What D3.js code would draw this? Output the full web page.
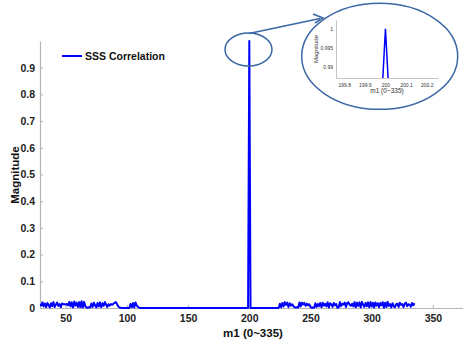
<!DOCTYPE html>
<html><head><meta charset="utf-8">
<script src="https://cdn.jsdelivr.net/npm/d3@7"></script>
<style>body{margin:0;background:#fff}svg{display:block;font-family:"Liberation Sans",Arial,sans-serif}</style>
</head><body>
<script>
// ---- data ----
const leftStart = 29; // m1 index of first left-noise value
const leftNoise = [14,9,21,6,17,3,19,12,2,18,7,22,4,13,20,8,15,3,17,14,
 14,13,15,10,23,6,21,2,24,9,20,4,22,3,25,2,23,7,1,2,
 3,2,17,4,20,10,2,19,6,21,3,18,8,22,13,4,14,9,15,12,
 16,19,22,14,6,2,1,0,0,0,0,0,0,0,15,3,19,2,21,10,4,1,0,0].map(v=>v/1000);
const peakM = [199,200,201];
const peakMag = [0,1,0];
const rightStart = 225;
const rightNoise = [16,3,19,6,22,12,20,4,18,9,14,7,3,2,3,2,21,6,20,13,
 19,8,16,10,14,3,1,2,1,18,4,15,7,19,3,20,9,16,6,21,
 2,18,14,4,19,10,15,1,2,22,7,16,13,20,4,19,21,12,9,16,
 6,22,3,20,8,21,2,23,13,4,19,7,21,3,22,6,20,2,21,9,
 18,3,19,10,22,1,20,4,23,8,15,2,18,7,3,14,16,4,20,12,
 15,3,16,20,7,14,12,5,19,10,18].map(v=>v/1000);
const xTicks = [50,100,150,200,250,300,350];
const yTicks = [0,0.1,0.2,0.3,0.4,0.5,0.6,0.7,0.8,0.9];
const insetXTicks = [199.8,199.9,200,200.1,200.2];
const insetYTicks = [0.99,0.995,1];
const seriesName = "SSS Correlation";

// build series
const series = [];
leftNoise.forEach((v,i)=>series.push([leftStart+i,v]));
const leftEnd = leftStart+leftNoise.length;
for(let m=leftEnd;m<peakM[0];m++) series.push([m,0]);
peakM.forEach((m,i)=>series.push([m,peakMag[i]]));
for(let m=peakM[2]+1;m<rightStart;m++) series.push([m,0]);
rightNoise.forEach((v,i)=>series.push([rightStart+i,v]));

const W=463,H=343;
const svg=d3.select("body").append("svg").attr("width",W).attr("height",H);

// ---- main chart ----
const x=d3.scaleLinear().domain([29,374.6]).range([40,463]);
const y=d3.scaleLinear().domain([0,1]).range([308,41]);

const axisColor="#b5b5b5";
const gx=svg.append("g").attr("transform","translate(0,308)")
 .call(d3.axisBottom(x).tickValues(xTicks).tickSizeInner(-3).tickSizeOuter(0).tickPadding(7));
const gy=svg.append("g").attr("transform","translate(40,0)")
 .call(d3.axisLeft(y).tickValues(yTicks).tickSizeInner(-3).tickSizeOuter(0).tickPadding(5)
 .tickFormat(d=>d===0?"0":d3.format(".1f")(d)));
[gx,gy].forEach(g=>{
 g.select(".domain").attr("stroke",axisColor).attr("stroke-width",1.2);
 g.selectAll(".tick line").attr("stroke",axisColor);
 g.selectAll(".tick text").attr("fill","#222").attr("font-size",10.5).attr("font-weight","bold")
  .attr("font-family","'Liberation Sans',Arial,sans-serif");
});

svg.append("defs").append("clipPath").attr("id","mainclip")
 .append("rect").attr("x",40).attr("y",30).attr("width",423).attr("height",280);

const line=d3.line().x(d=>x(d[0])).y(d=>y(d[1]));
svg.append("path").datum(series).attr("d",line).attr("fill","none")
 .attr("stroke","#0000ff").attr("stroke-width",2).attr("stroke-linejoin","round")
 .attr("clip-path","url(#mainclip)");

// axis titles
svg.append("text").attr("x",253).attr("y",337).attr("text-anchor","middle")
 .attr("font-size",11.5).attr("font-weight","bold").attr("fill","#111").text("m1 (0~335)");
svg.append("text").attr("transform","translate(19,175) rotate(-90)").attr("text-anchor","middle")
 .attr("font-size",11.5).attr("font-weight","bold").attr("fill","#111").text("Magnitude");

// legend
svg.append("line").attr("x1",62).attr("x2",82).attr("y1",56).attr("y2",56)
 .attr("stroke","#0000ff").attr("stroke-width",2);
svg.append("text").attr("x",85).attr("y",60).attr("font-size",10.5).attr("font-weight","bold")
 .attr("fill","#111").text(seriesName);

// ---- magnifier ellipses and arrow ----
const ecol="#3a68a4";
svg.append("ellipse").attr("cx",248.5).attr("cy",49.5).attr("rx",23.5).attr("ry",16.5)
 .attr("fill","none").attr("stroke",ecol).attr("stroke-width",1.5);
svg.append("ellipse").attr("cx",379.7).attr("cy",56.3).attr("rx",78).attr("ry",53)
 .attr("fill","#fff").attr("stroke",ecol).attr("stroke-width",1.5);
svg.append("line").attr("x1",249).attr("y1",33.5).attr("x2",320).attr("y2",18.5)
 .attr("stroke",ecol).attr("stroke-width",1.5);
svg.append("path").attr("d","M313,14 L323,18 L315,23").attr("fill","none")
 .attr("stroke",ecol).attr("stroke-width",1.5);

// ---- inset ----
const ix=d3.scaleLinear().domain([199.76,200.255]).range([336,438]);
const iy=d3.scaleLinear().domain([0.9872,1.0023]).range([78,20]);
const ig=svg.append("g");
const igx=ig.append("g").attr("transform","translate(0,78)")
 .call(d3.axisBottom(ix).tickValues(insetXTicks).tickSize(0).tickSizeOuter(0).tickPadding(5)
 .tickFormat(d=>d===200?"200":d3.format(".1f")(d)));
const igy=ig.append("g").attr("transform","translate(336,0)")
 .call(d3.axisLeft(iy).tickValues(insetYTicks).tickSize(0).tickSizeOuter(0).tickPadding(3)
 .tickFormat(d=>d===1?"1":d3.format(".3~f")(d)));
[igx,igy].forEach(g=>{
 g.select(".domain").attr("stroke","#c4c4c4").attr("stroke-width",1);
 g.selectAll(".tick text").attr("fill","#333").attr("font-size",5)
  .attr("font-family","'Liberation Sans',Arial,sans-serif");
});
svg.append("defs").append("clipPath").attr("id","insetclip")
 .append("rect").attr("x",336).attr("y",20).attr("width",102).attr("height",58);
const iline=d3.line().x(d=>ix(d[0])).y(d=>iy(d[1]));
ig.append("path").datum(series).attr("d",iline).attr("fill","none")
 .attr("stroke","#0000ff").attr("stroke-width",1.5).attr("clip-path","url(#insetclip)");
ig.append("text").attr("x",387).attr("y",93).attr("text-anchor","middle")
 .attr("font-size",6.5).attr("fill","#333").text("m1 (0~335)");
ig.append("text").attr("transform","translate(318,49) rotate(-90)").attr("text-anchor","middle")
 .attr("font-size",6).attr("fill","#333").text("Magnitude");
</script>
</body></html>
